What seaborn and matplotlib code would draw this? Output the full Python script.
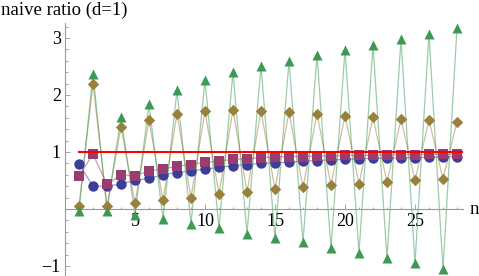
import matplotlib
matplotlib.use("Agg")
import matplotlib.pyplot as plt
from matplotlib.ticker import MultipleLocator, FixedLocator
import seaborn as sns
import pandas as pd

n = list(range(1, 29))

blue = [0.79, 0.40, 0.40, 0.44, 0.50, 0.54, 0.60, 0.64, 0.67, 0.70,
        0.73, 0.76, 0.78, 0.80, 0.81, 0.82, 0.84, 0.85, 0.86, 0.87,
        0.88, 0.89, 0.89, 0.90, 0.90, 0.91, 0.91, 0.92]
purple = [0.58, 0.96, 0.43, 0.60, 0.58, 0.67, 0.70, 0.75, 0.78, 0.82,
          0.84, 0.87, 0.88, 0.90, 0.91, 0.92, 0.92, 0.93, 0.93, 0.94,
          0.94, 0.94, 0.95, 0.95, 0.95, 0.96, 0.96, 0.96]
olive = [0.05, 2.20, 0.05, 1.44, 0.10, 1.56, 0.15, 1.67, 0.20, 1.72,
         0.26, 1.74, 0.30, 1.72, 0.35, 1.70, 0.38, 1.67, 0.42, 1.64,
         0.44, 1.61, 0.47, 1.58, 0.50, 1.56, 0.53, 1.53]
green = [-0.03, 2.37, -0.03, 1.62, -0.10, 1.84, -0.18, 2.08, -0.26, 2.26,
         -0.34, 2.40, -0.43, 2.51, -0.51, 2.60, -0.58, 2.70, -0.69, 2.79,
         -0.77, 2.88, -0.86, 2.98, -0.95, 3.07, -1.06, 3.18]

series = [
    (blue, (0.24, 0.24, 0.6), "o", 56),
    (purple, (0.6, 0.24, 0.4428), "s", 44),
    (olive, (0.6, 0.5, 0.24), "D", 34),
    (green, (0.24, 0.6, 0.33), "^", 52),
]

fig = plt.figure(figsize=(4.79, 2.76), dpi=100)
ax = fig.add_axes([65 / 479, 1 / 276, 398 / 479, 252 / 276])

for vals, col, mk, sz in series:
    df = pd.DataFrame({"n": n, "v": vals})
    sns.lineplot(data=df, x="n", y="v", color=col, lw=0.9, alpha=0.5, ax=ax)
    sns.scatterplot(data=df, x="n", y="v", color=col, marker=mk, s=sz,
                    linewidth=0, ax=ax, zorder=3)

ax.plot([1, 28.43], [1, 1], color="red", lw=1.5, zorder=4)

ax.set_xlim(0, 28.43)
ax.set_ylim(-1.158, 3.263)
ax.spines["left"].set_position(("data", 0))
ax.spines["bottom"].set_position(("data", 0))
ax.spines["top"].set_visible(False)
ax.spines["right"].set_visible(False)
for s in ("left", "bottom"):
    ax.spines[s].set_color("#999999")
    ax.spines[s].set_linewidth(0.8)

ax.xaxis.set_major_locator(FixedLocator([5, 10, 15, 20, 25]))
ax.xaxis.set_minor_locator(MultipleLocator(1))
ax.yaxis.set_major_locator(FixedLocator([-1, 1, 2, 3]))
ax.yaxis.set_minor_locator(MultipleLocator(0.2))
ax.tick_params(which="both", direction="in", color="#999999", width=0.6,
               labelsize=13, labelfontfamily="Liberation Serif")
ax.tick_params(which="major", length=3.5, pad=3)
ax.tick_params(which="minor", length=1.8)
ax.set_yticklabels(["\u22121", "1", "2", "3"])
ax.set_xlabel("")
ax.set_ylabel("")

fig.text(0.003, 0.995, "naive ratio (d=1)", ha="left", va="top",
         fontsize=13.5, family="Liberation Serif")
fig.text(470 / 479, 1 - 209 / 276, "n", ha="left", va="center",
         fontsize=13.5, family="Liberation Serif")

fig.savefig("out.png", dpi=100)
